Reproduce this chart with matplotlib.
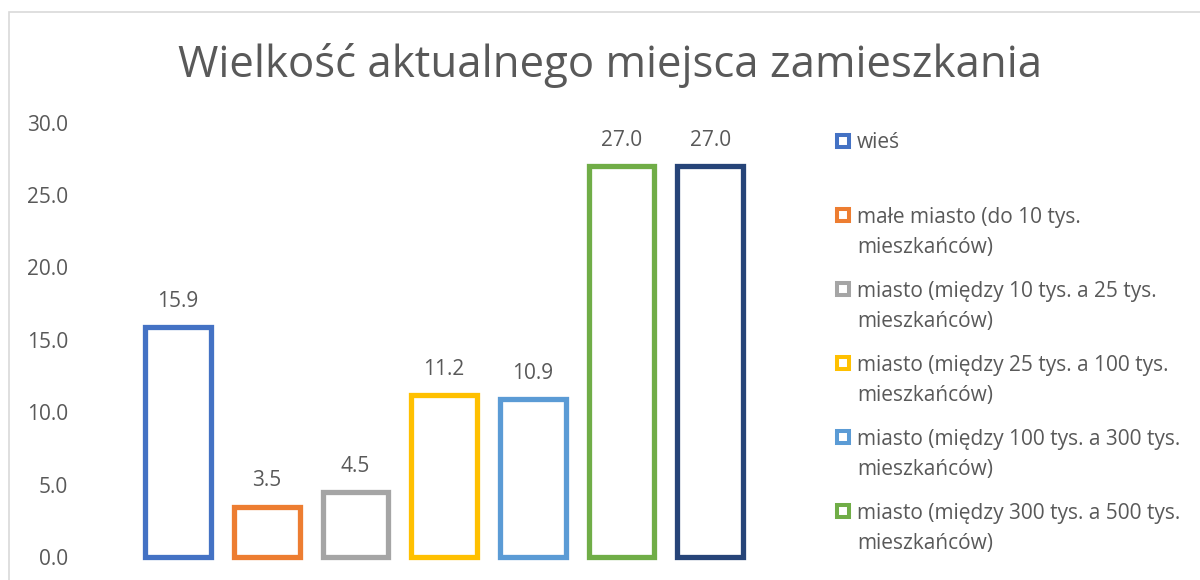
import numpy as np
import matplotlib
matplotlib.use("Agg")
import matplotlib.pyplot as plt
from matplotlib.patches import Rectangle

plt.rcParams['font.family'] = ['Open Sans', 'DejaVu Sans']

# data
names = ["wieś",
         "małe miasto (do 10 tys.\nmieszkańców)",
         "miasto (między 10 tys. a 25 tys.\nmieszkańców)",
         "miasto (między 25 tys. a 100 tys.\nmieszkańców)",
         "miasto (między 100 tys. a 300 tys.\nmieszkańców)",
         "miasto (między 300 tys. a 500 tys.\nmieszkańców)",
         "miasto (powyżej 500 tys.\nmieszkańców)"]
values = [15.9, 3.5, 4.5, 11.2, 10.9, 27.0, 27.0]
colors = ["#4472C4", "#ED7D31", "#A5A5A5", "#FFC000", "#5B9BD5", "#70AD47", "#264478"]
yticks = [0, 5, 10, 15, 20, 25, 30]

W, H = 1200, 580
txt = "#595959"
fs = 15

fig = plt.figure(figsize=(W / 100, H / 100), dpi=100)

# light chart frame (bottom and right edge fall outside the picture)
fig.patches.append(Rectangle((8.5 / W, -0.2), 1.2, 1.2 - 11.5 / H, transform=fig.transFigure,
                             fill=False, edgecolor="#D9D9D9", linewidth=1.2))

ax = fig.add_axes([80 / W, (H - 557.3) / H, (790 - 80) / W, (557.3 - 122.5) / H])
x = np.arange(len(values))
bars = ax.bar(x, values, width=0.74, fill=False, edgecolor=colors,
              linewidth=3.8, clip_on=False)
for b in bars:
    b.set_joinstyle("miter")

for i, v in enumerate(values):
    ax.annotate(f"{v:.1f}", (i, v), xytext=(0, 18.5), textcoords="offset points",
                ha="center", va="center", fontsize=fs, color=txt)

ax.set_xlim(-1.105, 6.9)
ax.set_ylim(0, 30)
ax.set_yticks(yticks)
ax.set_yticklabels([f"{t:.1f}" for t in yticks])
ax.set_xticks([])
ax.tick_params(axis="y", length=0, pad=8.6, labelsize=fs, labelcolor=txt)
for s in ax.spines.values():
    s.set_visible(False)

fig.text(610 / W, (H - 77) / H, "Wielkość aktualnego miejsca zamieszkania",
         ha="center", va="baseline", fontsize=31.5, color=txt)

# legend, one slot per series, marker beside the first line
for i, (name, c) in enumerate(zip(names, colors)):
    yc = 141 + 74 * i
    if yc > H:
        break
    fig.patches.append(Rectangle((837 / W, (H - yc - 6) / H), 12 / W, 12 / H,
                                 transform=fig.transFigure, fill=False,
                                 edgecolor=c, linewidth=2.9, joinstyle="miter"))
    for k, line in enumerate(name.split("\n")):
        yl = yc + 30 * k
        if yl > H:
            break
        fig.text(857 / W, (H - yl - 7.5) / H, line, ha="left", va="baseline",
                 fontsize=fs, color=txt)

fig.savefig("out.png", dpi=100)
